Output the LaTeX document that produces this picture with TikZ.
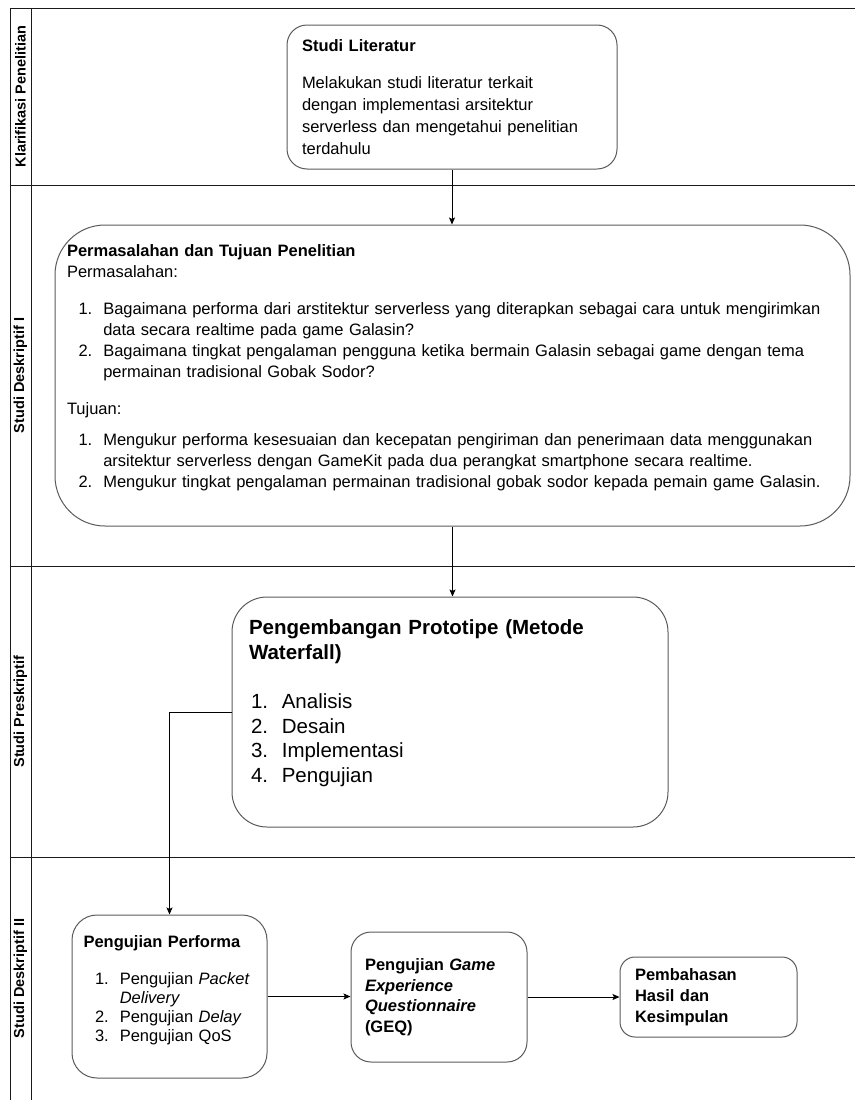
\documentclass[tikz,border=0pt]{standalone}
\usepackage{fontspec}
\setmainfont{Liberation Sans}
\usetikzlibrary{positioning,arrows.meta}
\definecolor{laneline}{HTML}{1A1A1A}
\definecolor{boxline}{HTML}{5A5A5A}
\definecolor{textcol}{HTML}{000000}
\newcommand{\nomor}[1]{\makebox[2.2em][l]{\hspace{0.7em}#1}}
\newcommand{\nomorwf}[1]{\makebox[1.6em][l]{\hspace{0.1em}#1}}
\newcommand{\lanjut}{\hspace*{2.2em}}

\begin{document}
\begin{tikzpicture}[x=1pt,y=-1pt,
    lane/.style={draw=laneline,line width=0.9pt},
    lanelabel/.style={rotate=90,font=\fontsize{14.5}{16}\selectfont\bfseries,text=textcol},
    prosesbox/.style={draw=boxline,line width=1pt,rounded corners=#1,inner sep=0pt,align=left,text=textcol},
    alur/.style={draw=black,line width=0.9pt,-{Stealth[length=7pt,width=6pt,inset=1.5pt]}}
]
\useasboundingbox (0,0) rectangle (855,1100);
% lanes
\draw[lane] (10,1100) -- (10,8) -- (855,8);
\draw[lane] (31,8) -- (31,1100);
\draw[lane] (10,185) -- (855,185);
\draw[lane] (10,566) -- (855,566);
\draw[lane] (10,857) -- (855,857);
\node[lanelabel] (klarifikasi) at (20.5,96.5) {Klarifikasi Penelitian};
\node[lanelabel] (deskriptif1) at (20.5,375.5) {Studi Deskriptif I};
\node[lanelabel] (preskriptif) at (20.5,711.5) {Studi Preskriptif};
\node[lanelabel] (deskriptif2) at (20.5,978.5) {Studi Deskriptif II};
% process boxes
\node[prosesbox=20pt,minimum width=330,minimum height=144,text width=300,font=\fontsize{16.5}{22}\selectfont] (lit) at (452,97) {\textbf{Studi Literatur}\\[15pt]Melakukan studi literatur terkait\\dengan implementasi arsitektur\\serverless dan mengetahui penelitian\\terdahulu};
\node[prosesbox=50pt,minimum width=795,minimum height=301,text width=771,font=\fontsize{16.5}{21}\selectfont] (masalah) at (452.5,375.5) {\textbf{Permasalahan dan Tujuan Penelitian}\\
Permasalahan:\\[16pt]
\nomor{1.}Bagaimana performa dari arstitektur serverless yang diterapkan sebagai cara untuk mengirimkan\\
\lanjut data secara realtime pada game Galasin?\\
\nomor{2.}Bagaimana tingkat pengalaman pengguna ketika bermain Galasin sebagai game dengan tema\\
\lanjut permainan tradisional Gobak Sodor?\\[16pt]
Tujuan:\\[10pt]
\nomor{1.}Mengukur performa kesesuaian dan kecepatan pengiriman dan penerimaan data menggunakan\\
\lanjut arsitektur serverless dengan GameKit pada dua perangkat smartphone secara realtime.\\
\nomor{2.}Mengukur tingkat pengalaman permainan tradisional gobak sodor kepada pemain game Galasin.\par\vspace{15pt}};
\node[prosesbox=35pt,minimum width=436,minimum height=230,text width=402,font=\fontsize{20.5}{24.5}\selectfont] (waterfall) at (450,712) {\textbf{Pengembangan Prototipe (Metode}\\\textbf{Waterfall)}\\[25pt]\nomorwf{1.}Analisis\\\nomorwf{2.}Desain\\\nomorwf{3.}Implementasi\\\nomorwf{4.}Pengujian\par\vspace{18pt}};
\node[prosesbox=25pt,minimum width=195,minimum height=163,text width=172,font=\fontsize{16.5}{19}\selectfont] (performa) at (169.5,996.5) {\textbf{Pengujian Performa}\\[18pt]\nomor{1.}Pengujian \textit{Packet}\\\lanjut\textit{Delivery}\\\nomor{2.}Pengujian \textit{Delay}\\\nomor{3.}Pengujian QoS\par\vspace{13pt}};
\node[prosesbox=20pt,minimum width=176,minimum height=130,text width=148,font=\fontsize{16.5}{20.5}\selectfont\bfseries] (geq) at (439,997) {Pengujian \textit{Game}\\\textit{Experience}\\\textit{Questionnaire}\\(GEQ)};
\node[prosesbox=15pt,minimum width=177,minimum height=80,text width=147,font=\fontsize{16.5}{21}\selectfont\bfseries] (bahas) at (708.5,997) {Pembahasan\\Hasil dan\\Kesimpulan};
% flow
\draw[alur] (lit.south) -- (lit.south |- masalah.north);
\draw[alur] (masalah.south) -- (masalah.south |- waterfall.north);
\draw[alur] (waterfall.west) -| (performa.north);
\draw[alur] (performa.east) -- (performa.east -| geq.west);
\draw[alur] (geq.east) -- (geq.east -| bahas.west);
\end{tikzpicture}
\end{document}
